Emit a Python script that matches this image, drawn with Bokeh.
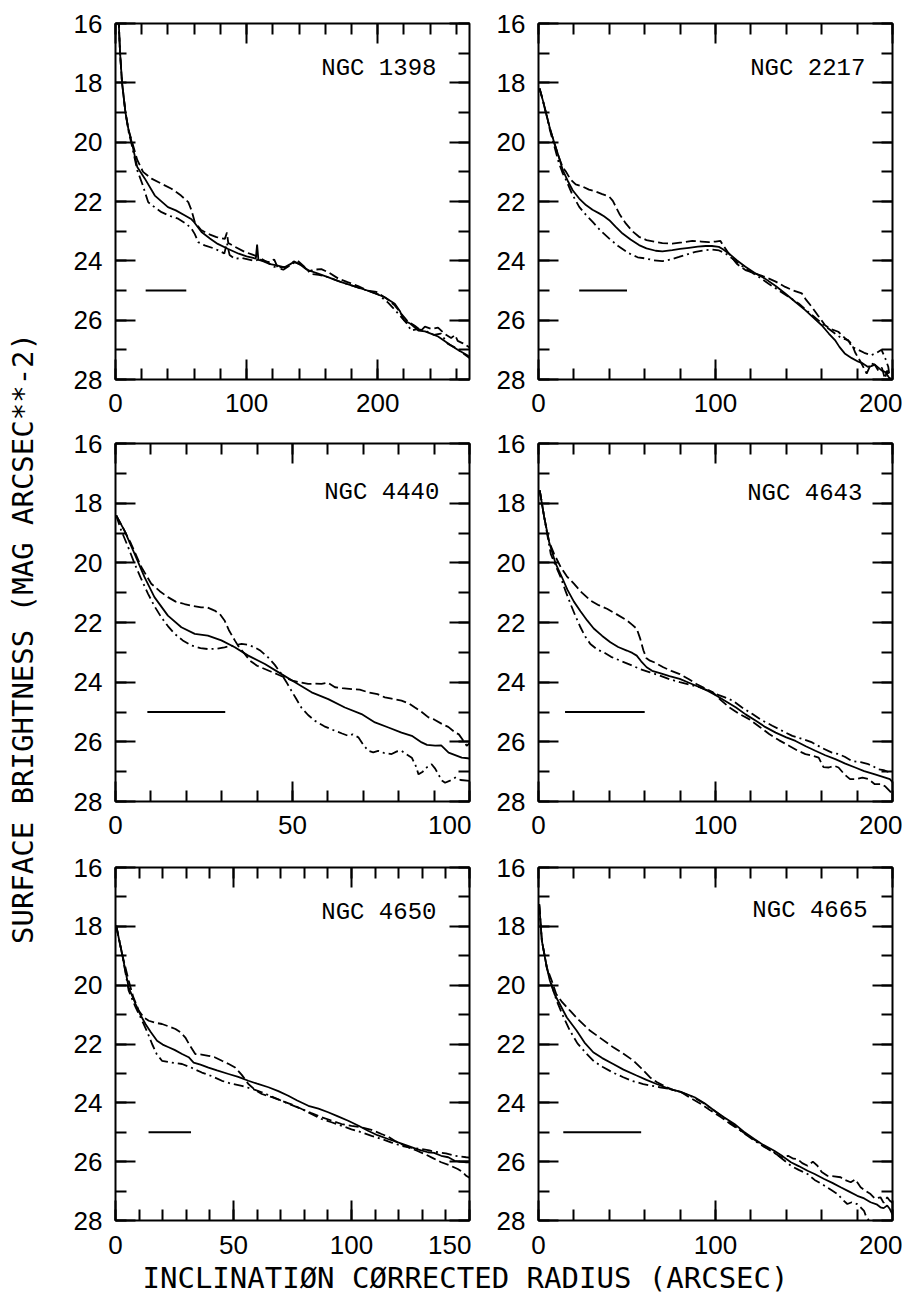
import math
from bokeh.plotting import figure
from bokeh.models import Range1d, LinearAxis, SingleIntervalTicker, Label
from bokeh.layouts import row, column
from bokeh.embed import file_html
from bokeh.resources import INLINE

# ---------------- data ----------------
names = ["NGC 1398", "NGC 2217", "NGC 4440", "NGC 4643", "NGC 4650", "NGC 4665"]
x_max = [270, 200, 100, 200, 150, 200]
x_major = [100, 100, 50, 100, 50, 100]
y_ticks_major = 2
bar_start = [23, 23, 9, 15, 14, 14]
bar_end = [54, 50, 31, 60, 32, 58]
bar_level = 25
label_x = [244.8, 184.7, 91.5, 183.0, 136.0, 185.9]
label_y = [17.52, 17.50, 17.64, 17.67, 17.53, 17.46]

# NGC 1398
r_1398_solid = [2.2, 2.5, 3.5, 5, 7.6, 10, 12.7, 16.6, 22.4, 30, 40, 46, 53, 58, 60, 65.6, 72, 78, 86, 94, 100, 105, 107, 108, 109, 112, 117, 123, 129, 133, 136, 140, 146, 154, 162, 171, 180, 192, 205, 213, 217, 220, 225, 231, 236, 241, 246, 251, 256, 261, 265, 269, 270]
mu_1398_solid = [15.8, 16.0, 17.0, 18.0, 19.0, 19.6, 20.06, 20.84, 21.23, 21.8, 22.19, 22.3, 22.47, 22.6, 22.7, 23.03, 23.25, 23.43, 23.6, 23.76, 23.85, 23.9, 23.93, 23.45, 23.97, 24.0, 24.1, 24.15, 24.22, 24.12, 24.04, 24.1, 24.3, 24.42, 24.55, 24.7, 24.83, 25.0, 25.22, 25.45, 25.7, 26.0, 26.12, 26.35, 26.38, 26.46, 26.55, 26.7, 26.85, 27.0, 27.1, 27.2, 27.22]
r_1398_dash = [2.2, 2.5, 3.5, 5, 7.6, 10, 12.7, 16.6, 21, 27.5, 35, 42.7, 50, 55.5, 58, 60.5, 65, 70.7, 77, 83.4, 85, 86, 90, 98.6, 104, 108, 112, 118, 121, 124, 128, 133, 136, 142, 148, 151, 157, 163, 170, 177, 185, 192, 199, 207, 213, 218, 223, 228, 233, 236, 241, 246, 251, 256, 259, 261, 265, 270]
mu_1398_dash = [15.8, 16.0, 17.0, 18.0, 19.0, 19.6, 20.0, 20.6, 21.0, 21.23, 21.4, 21.57, 21.8, 22.02, 22.3, 22.7, 22.95, 23.09, 23.2, 23.26, 23.05, 23.4, 23.5, 23.7, 23.78, 23.85, 24.0, 24.05, 23.95, 24.25, 24.3, 24.15, 24.02, 24.15, 24.35, 24.3, 24.28, 24.4, 24.6, 24.72, 24.85, 25.0, 25.05, 25.28, 25.5, 25.79, 26.05, 26.18, 26.35, 26.22, 26.3, 26.25, 26.46, 26.6, 26.5, 26.7, 26.78, 26.92]
r_1398_dashdot = [2.2, 2.5, 3.5, 5, 7.6, 10, 12.7, 16.6, 20.4, 24.9, 30, 35.1, 41, 47.8, 54, 58, 60.5, 63.1, 68, 75.7, 83, 85, 87, 91, 96, 101, 106, 111, 116, 121, 126, 131, 134, 139, 144, 149, 155, 162, 170, 180, 192, 200, 207.7, 213, 218, 222, 225.5, 230, 236, 243, 248, 253.6, 258, 263, 270]
mu_1398_dashdot = [15.8, 16.0, 17.0, 18.0, 19.0, 19.65, 20.15, 20.95, 21.4, 22.02, 22.2, 22.36, 22.48, 22.58, 22.75, 22.92, 23.1, 23.37, 23.48, 23.59, 23.75, 23.4, 23.8, 23.93, 23.9, 23.95, 24.0, 23.93, 24.05, 24.2, 24.22, 24.2, 24.12, 24.0, 24.2, 24.44, 24.47, 24.55, 24.68, 24.83, 25.0, 25.12, 25.4, 25.65, 25.9, 26.1, 26.35, 26.3, 26.35, 26.5, 26.45, 26.8, 26.9, 27.05, 27.28]

# NGC 2217
r_2217_solid = [0.6, 2.5, 4.3, 6.5, 9, 11.5, 13.7, 16.5, 19.3, 23, 26.8, 30.5, 34.3, 37, 40, 43.5, 47.5, 52, 56.8, 61, 66.2, 70, 75.6, 80, 85, 90, 94.4, 98, 101.9, 104, 107.5, 112, 116.9, 122, 128, 134, 139.4, 145, 150.7, 155, 160, 164, 167.5, 170, 173, 177, 180.7, 183, 186, 188, 190, 192, 194, 196, 197.6, 199]
mu_2217_solid = [18.19, 18.6, 19.03, 19.55, 20.04, 20.5, 20.94, 21.3, 21.62, 21.9, 22.12, 22.28, 22.4, 22.5, 22.63, 22.85, 23.08, 23.28, 23.47, 23.58, 23.66, 23.68, 23.64, 23.6, 23.56, 23.52, 23.5, 23.5, 23.53, 23.6, 23.75, 23.98, 24.2, 24.4, 24.6, 24.85, 25.1, 25.38, 25.66, 25.9, 26.17, 26.45, 26.67, 26.9, 27.12, 27.28, 27.4, 27.45, 27.57, 27.55, 27.5, 27.6, 27.7, 27.75, 27.9, 28.0]
r_2217_dash = [0.6, 2.5, 4.3, 6.5, 9, 11.5, 13.7, 15.6, 18, 21, 25, 28.5, 32.5, 36, 40, 42, 43.7, 46, 49.3, 53, 56.8, 61, 66.2, 70, 75.6, 81, 86.9, 92, 96.2, 100, 102.8, 104, 107.5, 112, 116.9, 122, 128, 134, 139.4, 144, 148.8, 151, 154.4, 158, 161.9, 165, 169.4, 173, 176.9, 179, 182.5, 185.4, 188, 190, 192, 194, 195.7, 197, 198.5]
mu_2217_dash = [18.19, 18.6, 19.03, 19.55, 20.04, 20.5, 20.85, 21.0, 21.25, 21.42, 21.5, 21.6, 21.67, 21.75, 21.84, 21.98, 22.18, 22.45, 22.74, 23.0, 23.19, 23.3, 23.36, 23.4, 23.42, 23.38, 23.33, 23.35, 23.37, 23.35, 23.33, 23.45, 23.75, 24.1, 24.31, 24.42, 24.54, 24.7, 24.88, 25.0, 25.1, 25.3, 25.55, 25.85, 26.17, 26.3, 26.39, 26.6, 26.79, 27.1, 27.46, 27.8, 27.46, 27.5, 27.7, 27.6, 27.97, 27.7, 28.0]
r_2217_dashdot = [0.6, 2.5, 4.3, 6.5, 9, 11.5, 13.7, 15.6, 19, 23, 26.8, 30.6, 35, 40, 45, 51.2, 56, 60.6, 65, 70, 75, 79.4, 84, 88.7, 93, 98, 102, 105.6, 109, 113, 118, 124.4, 130, 135.6, 141, 147, 152, 158, 163, 167.5, 171, 175, 177, 180.7, 184, 188, 191, 193.8, 196, 197.6, 198.5]
mu_2217_dashdot = [18.19, 18.6, 19.03, 19.6, 20.15, 20.7, 21.05, 21.28, 21.75, 22.18, 22.45, 22.69, 22.98, 23.25, 23.5, 23.75, 23.88, 23.92, 23.98, 24.01, 23.95, 23.87, 23.78, 23.7, 23.65, 23.62, 23.65, 23.75, 23.9, 24.09, 24.3, 24.54, 24.77, 24.99, 25.2, 25.44, 25.7, 26.0, 26.25, 26.45, 26.6, 26.67, 26.9, 27.0, 27.1, 27.18, 27.1, 27.0, 27.3, 27.57, 27.97]

# NGC 4440
r_4440_solid = [0.2, 2.5, 5.4, 8.2, 11, 14.8, 18.6, 22.4, 26.1, 29.9, 33.7, 37.5, 42.2, 46.9, 50.7, 55.4, 60.1, 64.8, 69.5, 73.3, 77.1, 80.8, 83.7, 86.5, 88, 90.3, 92, 94.1, 97.8, 99.5, 100]
mu_4440_solid = [18.41, 18.91, 19.7, 20.48, 21.15, 21.77, 22.16, 22.38, 22.44, 22.6, 22.83, 23.11, 23.39, 23.73, 24.0, 24.34, 24.57, 24.85, 25.07, 25.35, 25.52, 25.69, 25.8, 26.02, 26.1, 26.13, 26.12, 26.36, 26.53, 26.55, 26.56]
r_4440_dash = [0.2, 2.5, 4.4, 7.3, 10.1, 12.5, 14.8, 17, 19.5, 22, 24.2, 26, 28, 29.5, 30.8, 32, 33.7, 35, 36.5, 38, 40, 42, 44, 46, 48, 50, 52, 54.4, 56, 58.2, 60, 62, 64, 66.7, 69, 71.4, 74, 76.1, 78, 80.8, 83, 84.6, 86.5, 88.4, 90, 92.2, 94, 96, 97, 98.3, 99.2, 100]
mu_4440_dash = [18.41, 18.91, 19.36, 20.14, 20.7, 20.95, 21.15, 21.3, 21.38, 21.45, 21.49, 21.5, 21.6, 21.72, 21.93, 22.25, 22.6, 22.85, 23.05, 23.28, 23.45, 23.55, 23.65, 23.75, 23.85, 23.95, 24.0, 24.06, 24.05, 24.06, 24.02, 24.17, 24.2, 24.23, 24.25, 24.34, 24.4, 24.51, 24.55, 24.62, 24.72, 24.85, 25.0, 25.18, 25.25, 25.4, 25.5, 25.69, 25.75, 25.97, 26.13, 26.05]
r_4440_dashdot = [0.2, 1.6, 3.5, 5.4, 7.3, 9.2, 11, 12.9, 14.8, 16.7, 19, 21.4, 24, 26.1, 28.5, 30.8, 33, 35.6, 37.5, 39.3, 41, 43.1, 45, 46.9, 48.3, 49.7, 51, 52.5, 54.4, 56.3, 59, 62, 64, 65.8, 67, 68.6, 70, 71.4, 72.8, 74.2, 76, 78, 79.5, 80.8, 82, 83.7, 84.8, 85.6, 86.8, 87.9, 89.3, 90.3, 91.2, 92.2, 93.1, 94.5, 96, 97.5, 100]
mu_4440_dashdot = [18.41, 18.91, 19.45, 20.03, 20.55, 21.04, 21.45, 21.82, 22.12, 22.38, 22.6, 22.77, 22.86, 22.89, 22.88, 22.83, 22.78, 22.72, 22.75, 22.83, 22.95, 23.17, 23.42, 23.73, 24.0, 24.29, 24.55, 24.85, 25.1, 25.29, 25.48, 25.63, 25.72, 25.8, 25.75, 25.85, 26.1, 26.3, 26.35, 26.3, 26.38, 26.41, 26.32, 26.3, 26.4, 26.53, 26.8, 27.09, 27.0, 26.86, 26.75, 26.9, 27.09, 27.3, 27.37, 27.3, 27.2, 27.28, 27.31]

# NGC 4643
r_4643_solid = [0.7, 3.2, 6, 9.7, 13, 16.3, 20, 23.7, 27.5, 31.2, 36, 40.6, 45, 49.9, 53, 55.5, 58, 61.1, 64.2, 68.6, 74, 79.8, 85, 91, 96, 100.4, 106, 111.6, 117, 122.8, 128, 134, 140, 145.2, 151, 156.4, 162, 167.7, 173, 178.9, 184, 190.1, 195, 198.5, 200]
mu_4643_solid = [17.57, 18.46, 19.3, 20.03, 20.45, 20.9, 21.3, 21.62, 21.93, 22.2, 22.45, 22.66, 22.82, 22.94, 23.02, 23.11, 23.3, 23.5, 23.62, 23.7, 23.8, 23.89, 24.02, 24.17, 24.3, 24.45, 24.65, 24.85, 25.08, 25.29, 25.5, 25.69, 25.85, 25.97, 26.15, 26.3, 26.45, 26.58, 26.72, 26.86, 26.98, 27.09, 27.18, 27.25, 27.35]
r_4643_dash = [0.7, 3.2, 6, 8.8, 12.5, 16, 20, 24.5, 29.3, 34, 38.7, 44, 49.9, 53, 55.5, 57.5, 59.3, 61, 63, 66, 70.5, 75, 79.8, 85, 89.2, 94, 98.5, 103, 107.9, 113, 119, 125, 130.3, 136, 141.5, 146, 150.8, 154, 158.3, 161, 164, 167, 169.5, 173, 176, 178.9, 183, 186.4, 190, 193.8, 196, 198.5, 200]
mu_4643_dash = [17.57, 18.46, 19.3, 19.7, 20.14, 20.45, 20.7, 21.0, 21.26, 21.42, 21.54, 21.72, 21.93, 22.08, 22.21, 22.55, 22.94, 23.2, 23.28, 23.35, 23.5, 23.62, 23.73, 23.9, 24.06, 24.2, 24.34, 24.6, 24.85, 25.05, 25.24, 25.5, 25.74, 25.95, 26.13, 26.28, 26.41, 26.45, 26.53, 26.85, 26.86, 26.8, 26.86, 27.1, 27.25, 27.25, 27.2, 27.25, 27.42, 27.42, 27.5, 27.65, 27.75]
r_4643_dashdot = [0.7, 3.2, 6.9, 9.7, 12.5, 15.3, 18.1, 21, 23.7, 26.5, 29.3, 33, 36.8, 41, 46.2, 52, 57.4, 63, 68.6, 74, 79.8, 85, 91, 96, 100.4, 105, 109.7, 115, 120.9, 126, 132.1, 138, 143.4, 149, 154.6, 160, 165.8, 169.5, 173, 177, 182, 186.4, 189, 192, 195, 198.5, 200]
mu_4643_dashdot = [17.57, 18.46, 19.7, 20.1, 20.48, 20.95, 21.38, 21.8, 22.16, 22.48, 22.72, 22.9, 23.0, 23.15, 23.28, 23.42, 23.56, 23.67, 23.78, 23.9, 24.0, 24.08, 24.17, 24.28, 24.4, 24.5, 24.62, 24.85, 25.07, 25.27, 25.46, 25.64, 25.8, 25.9, 26.02, 26.2, 26.36, 26.41, 26.5, 26.64, 26.68, 26.75, 26.82, 26.92, 26.95, 27.03, 27.05]

# NGC 4650
r_4650_solid = [0.3, 2.8, 5.6, 8.5, 10.5, 12.7, 15, 17.6, 20, 22.5, 25, 28.2, 31, 33.1, 36, 39.4, 43, 47.9, 52, 56.3, 60, 64.8, 69, 73.2, 77, 81.7, 86, 90.1, 94, 98.6, 103, 107, 111, 115.5, 120, 123.9, 128, 132.4, 135, 138, 141, 143.7, 146, 148.6, 150]
mu_4650_solid = [17.98, 18.94, 20.08, 20.64, 21.0, 21.32, 21.6, 21.89, 22.02, 22.11, 22.2, 22.34, 22.45, 22.63, 22.7, 22.8, 22.9, 23.02, 23.12, 23.25, 23.35, 23.47, 23.6, 23.76, 23.92, 24.1, 24.2, 24.32, 24.45, 24.61, 24.78, 24.95, 25.1, 25.23, 25.35, 25.46, 25.58, 25.68, 25.7, 25.8, 25.85, 25.97, 26.0, 26.02, 26.02]
r_4650_dash = [0.3, 2.8, 5.6, 7.5, 9.9, 12, 14.1, 17, 19.7, 22.5, 25.4, 27.5, 29.6, 31.5, 33.8, 36.5, 39.4, 42, 45.1, 48, 50.7, 53.5, 56.3, 59, 62, 66, 70.4, 74.5, 78.9, 83, 87.3, 91.5, 95.8, 100, 104.2, 108.5, 112.7, 115.5, 118.3, 121, 123.9, 127.5, 131, 134.5, 138, 141.5, 145, 147, 148.6, 150]
mu_4650_dash = [17.98, 18.94, 19.85, 20.4, 20.87, 21.1, 21.21, 21.28, 21.32, 21.4, 21.49, 21.6, 21.78, 22.05, 22.34, 22.36, 22.4, 22.45, 22.57, 22.68, 22.8, 23.05, 23.36, 23.55, 23.7, 23.8, 23.93, 24.05, 24.21, 24.35, 24.49, 24.6, 24.72, 24.78, 24.83, 24.92, 25.06, 25.15, 25.29, 25.4, 25.51, 25.62, 25.74, 25.88, 26.02, 26.12, 26.25, 26.35, 26.48, 26.55]
r_4650_dashdot = [0.3, 2.8, 5.6, 8.5, 11.3, 13.5, 15.5, 17.5, 19.7, 23, 28.2, 32, 36.6, 41, 45.1, 49, 53.5, 58, 62, 66, 70.4, 74.5, 78.9, 83, 87.3, 91.5, 95.8, 100, 104.2, 108.5, 112.7, 117, 121.1, 125, 129.6, 133, 136.6, 140, 143.7, 146, 148.6, 150]
mu_4650_dashdot = [17.98, 18.94, 20.19, 20.75, 21.21, 21.6, 22.0, 22.35, 22.57, 22.62, 22.68, 22.8, 22.97, 23.1, 23.25, 23.35, 23.42, 23.53, 23.64, 23.78, 23.93, 24.07, 24.21, 24.38, 24.55, 24.66, 24.78, 24.9, 25.0, 25.12, 25.23, 25.35, 25.46, 25.52, 25.57, 25.62, 25.68, 25.72, 25.8, 25.82, 25.85, 25.86]

# NGC 4665
r_4665_solid = [0.4, 1.9, 4.7, 6.4, 9, 12, 16, 21.5, 26, 30.9, 36, 42.2, 48, 55.4, 61, 66.7, 74.2, 80, 88.2, 94, 99.4, 105, 110.7, 116, 121.9, 127, 133.2, 138, 142.6, 147, 152, 156, 161.4, 166, 170.7, 175, 180.1, 184, 187.6, 191, 193.2, 195, 197, 198.5, 200]
mu_4665_solid = [17.25, 18.49, 19.4, 19.84, 20.3, 20.64, 21.1, 21.54, 21.95, 22.28, 22.48, 22.68, 22.87, 23.07, 23.22, 23.36, 23.53, 23.62, 23.81, 24.02, 24.27, 24.5, 24.72, 24.98, 25.23, 25.43, 25.63, 25.82, 26.02, 26.15, 26.31, 26.42, 26.59, 26.72, 26.87, 27.0, 27.16, 27.25, 27.38, 27.45, 27.55, 27.58, 27.49, 27.61, 27.8]
r_4665_dash = [0.4, 1.9, 4.7, 7.5, 10, 13, 17.7, 23, 29, 35, 42.2, 48, 53.5, 58, 62.9, 67, 72.3, 76, 80.7, 86, 91.9, 97, 103.2, 108, 114.4, 120, 125.7, 131, 137, 141, 144, 146.3, 149, 152, 155, 157.6, 160, 163.2, 167, 170.7, 173, 176.4, 179, 182, 185, 187.6, 190, 193.2, 195, 197, 198.5, 200]
mu_4665_dash = [17.25, 18.49, 19.4, 19.85, 20.3, 20.55, 20.86, 21.2, 21.54, 21.8, 22.11, 22.33, 22.56, 22.82, 23.13, 23.3, 23.47, 23.56, 23.64, 23.84, 24.04, 24.25, 24.49, 24.7, 24.95, 25.18, 25.4, 25.62, 25.85, 25.8, 25.9, 25.91, 26.05, 26.14, 26.0, 26.14, 26.35, 26.48, 26.5, 26.53, 26.62, 26.7, 26.6, 26.87, 27.0, 27.1, 27.25, 27.21, 27.4, 27.21, 27.33, 27.4]
r_4665_dashdot = [0.4, 1.9, 4.7, 7.5, 10.2, 13.5, 17.7, 22, 27.1, 31.5, 36.6, 42, 47.9, 53, 59.2, 64, 68.5, 74.2, 80.7, 88.2, 94, 99.4, 105, 110.7, 116, 121.9, 127, 133.2, 138, 142.6, 147, 152, 156, 161.4, 165, 168.9, 172, 174.5, 177, 180, 182, 183.9, 185, 186.7]
mu_4665_dashdot = [17.25, 18.49, 19.4, 20.0, 20.52, 21.0, 21.54, 21.98, 22.33, 22.6, 22.79, 22.97, 23.13, 23.26, 23.36, 23.42, 23.47, 23.53, 23.64, 23.83, 24.04, 24.27, 24.52, 24.78, 25.03, 25.28, 25.48, 25.68, 25.92, 26.14, 26.28, 26.42, 26.62, 26.81, 26.95, 27.1, 27.3, 27.44, 27.38, 27.44, 27.55, 27.67, 27.85, 28.0]

profiles = [
    [(r_1398_solid, mu_1398_solid), (r_1398_dash, mu_1398_dash), (r_1398_dashdot, mu_1398_dashdot)],
    [(r_2217_solid, mu_2217_solid), (r_2217_dash, mu_2217_dash), (r_2217_dashdot, mu_2217_dashdot)],
    [(r_4440_solid, mu_4440_solid), (r_4440_dash, mu_4440_dash), (r_4440_dashdot, mu_4440_dashdot)],
    [(r_4643_solid, mu_4643_solid), (r_4643_dash, mu_4643_dash), (r_4643_dashdot, mu_4643_dashdot)],
    [(r_4650_solid, mu_4650_solid), (r_4650_dash, mu_4650_dash), (r_4650_dashdot, mu_4650_dashdot)],
    [(r_4665_solid, mu_4665_solid), (r_4665_dash, mu_4665_dash), (r_4665_dashdot, mu_4665_dashdot)],
]

# ---------------- styling / layout ----------------
DASHES = ["solid", "10 4", "10 4 2 4"]
TICK_FONT = "Liberation Sans"
TITLE_FONT = "DejaVu Sans Mono"
FRAME_W = 354
ROW_FRAME_H = [356, 358, 353]
ROW_TOP = [23, 15, 15]
ROW_BOTTOM = [49, 51, 58]
X_STANDOFF = [14, 14, 15]
COL_RIGHT = [2, 10]
LEFT_BORDER = 67
TOTAL_H = 1296
YLAB_W = 48
XLAB_OVERLAP = 40
XLAB_BASELINE = 39   # from the top of the x-title strip


def make_axis(interval, labels, standoff):
    ax = LinearAxis(ticker=SingleIntervalTicker(interval=interval, num_minor_ticks=5 if interval != 2 else 2))
    ax.axis_line_color = None
    ax.major_tick_in = 20
    ax.major_tick_out = 0
    ax.minor_tick_in = 11
    ax.minor_tick_out = 0
    ax.major_tick_line_color = "black"
    ax.minor_tick_line_color = "black"
    ax.major_tick_line_width = 2
    ax.minor_tick_line_width = 2
    if labels:
        ax.major_label_text_font = TICK_FONT
        ax.major_label_text_font_size = "26px"
        ax.major_label_text_color = "black"
        ax.major_label_standoff = standoff
    else:
        ax.major_label_text_font_size = "1px"
        ax.major_label_text_color = None
        ax.major_label_standoff = 0
    return ax


def panel(i):
    r, c = divmod(i, 2)
    p = figure(frame_width=FRAME_W, frame_height=ROW_FRAME_H[r],
               x_range=Range1d(0, x_max[i]), y_range=Range1d(28, 16),
               x_axis_type=None, y_axis_type=None,
               output_backend="svg", toolbar_location=None,
               min_border_left=LEFT_BORDER, min_border_right=COL_RIGHT[c],
               min_border_top=ROW_TOP[r], min_border_bottom=ROW_BOTTOM[r])
    p.outline_line_color = "black"
    p.outline_line_width = 2
    p.background_fill_color = "white"
    p.border_fill_color = "white"
    p.add_layout(make_axis(x_major[i], True, X_STANDOFF[r]), "below")
    p.add_layout(make_axis(x_major[i], False, 0), "above")
    p.add_layout(make_axis(y_ticks_major, True, 13), "left")
    p.add_layout(make_axis(y_ticks_major, False, 0), "right")
    for (xs, ys), dash in zip(profiles[i], DASHES):
        p.line(xs, ys, line_color="black", line_width=1.8, line_dash=dash)
    p.line([bar_start[i], bar_end[i]], [bar_level, bar_level], line_color="black", line_width=2)
    p.add_layout(Label(x=label_x[i], y=label_y[i], text=names[i], text_font="Liberation Mono",
                       text_font_size="24px", text_color="black", text_align="right",
                       text_baseline="alphabetic"))
    return p


panels = [panel(i) for i in range(6)]

grid_h = sum(t + h + b for t, h, b in zip(ROW_TOP, ROW_FRAME_H, ROW_BOTTOM))
col_w = (LEFT_BORDER + FRAME_W + COL_RIGHT[0]) + (LEFT_BORDER + FRAME_W + COL_RIGHT[1])

# y title
yfig = figure(width=YLAB_W, height=TOTAL_H, x_range=Range1d(0, YLAB_W), y_range=Range1d(TOTAL_H, 0),
              x_axis_type=None, y_axis_type=None, output_backend="svg", toolbar_location=None,
              min_border=0, outline_line_color=None)
yfig.add_layout(Label(x=22, y=638, text="SURFACE BRIGHTNESS (MAG ARCSEC**-2)", angle=math.pi / 2,
                      text_align="center", text_baseline="middle", text_font=TITLE_FONT,
                      text_font_size="29px", text_color="black"))

# x title: a transparent strip that overlaps the empty band below the bottom row
xlab_h = TOTAL_H - grid_h + XLAB_OVERLAP
xfig = figure(width=col_w, height=xlab_h, x_range=Range1d(0, col_w), y_range=Range1d(xlab_h, 0),
              x_axis_type=None, y_axis_type=None, output_backend="svg", toolbar_location=None,
              min_border=0, outline_line_color=None, margin=(-XLAB_OVERLAP, 0, 0, 0))
xfig.background_fill_color = None
xfig.border_fill_color = None
xfig.add_layout(Label(x=465 - YLAB_W, y=XLAB_BASELINE, text="INCLINATIØN CØRRECTED RADIUS (ARCSEC)",
                      text_align="center", text_baseline="alphabetic", text_font=TITLE_FONT,
                      text_font_size="29px", text_color="black"))

layout = row(yfig, column(row(panels[0], panels[1]), row(panels[2], panels[3]),
                          row(panels[4], panels[5]), xfig))

open("out.html", "w").write(file_html(layout, INLINE))
